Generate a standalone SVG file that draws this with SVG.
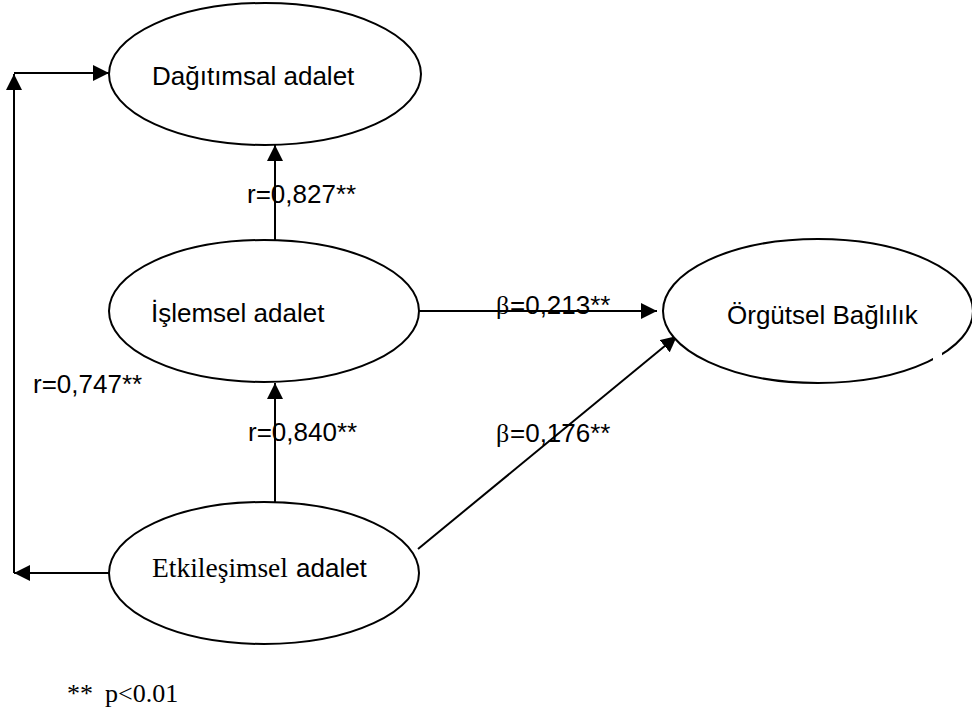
<svg xmlns="http://www.w3.org/2000/svg" width="972" height="716" viewBox="0 0 972 716">
  <style>
    .node { fill: #ffffff; stroke: #000000; stroke-width: 2; }
    .edge { fill: none; stroke: #000000; stroke-width: 2; }
    .sans { font-family: "Liberation Sans", Arial, sans-serif; font-size: 26px; fill: #000000; }
    .serif { font-family: "Liberation Serif", "Times New Roman", serif; font-size: 26px; fill: #000000; }
  </style>
  <defs>
    <marker id="arrow" markerUnits="userSpaceOnUse" markerWidth="16" markerHeight="16" viewBox="0 0 16 16" refX="16" refY="8" orient="auto">
      <path d="M0,0 L16,8 L0,16 Z" fill="#000000"/>
    </marker>
  </defs>

  <rect width="972" height="716" fill="#ffffff"/>

  <!-- connectors -->
  <g id="connectors">
    <line class="edge" x1="109" y1="573" x2="14" y2="573" marker-end="url(#arrow)"/>
    <line class="edge" x1="14" y1="573" x2="14" y2="74" marker-end="url(#arrow)"/>
    <line class="edge" x1="14" y1="73" x2="109" y2="73" marker-end="url(#arrow)"/>
    <line class="edge" x1="275" y1="240" x2="275" y2="145" marker-end="url(#arrow)"/>
    <line class="edge" x1="275" y1="502" x2="275" y2="383" marker-end="url(#arrow)"/>
    <line class="edge" x1="419" y1="311" x2="657" y2="311" marker-end="url(#arrow)"/>
    <line class="edge" x1="418" y1="549" x2="677" y2="336" stroke-width="1.6" marker-end="url(#arrow)"/>
  </g>

  <!-- nodes -->
  <g id="dagitimsal">
    <ellipse class="node" cx="265" cy="74" rx="156" ry="71"/>
    <text class="sans" x="152" y="85">Dağıtımsal adalet</text>
  </g>
  <g id="islemsel">
    <ellipse class="node" cx="264" cy="311" rx="155" ry="71"/>
    <text class="sans" x="151" y="322">İşlemsel adalet</text>
  </g>
  <g id="etkilesimsel">
    <ellipse class="node" cx="264" cy="573" rx="155" ry="71"/>
    <text y="577"><tspan class="serif" x="152" style="font-size:27.5px">Etkileşimsel</tspan><tspan class="sans" x="296">adalet</tspan></text>
  </g>
  <g id="orgutsel">
    <ellipse class="node" cx="818" cy="311" rx="155" ry="72"/>
    <rect x="933" y="353" width="9" height="8" fill="#ffffff"/>
    <text class="sans" x="727" y="324">Örgütsel Bağlılık</text>
  </g>

  <!-- coefficient labels -->
  <g id="labels">
    <text class="sans" x="247" y="203">r=0,827**</text>
    <text class="sans" x="33" y="393">r=0,747**</text>
    <text class="sans" x="248" y="441">r=0,840**</text>
    <text y="314"><tspan class="serif" x="496">β</tspan><tspan class="sans" x="510">=0,213**</tspan></text>
    <text y="442"><tspan class="serif" x="496">β</tspan><tspan class="sans" x="510">=0,176**</tspan></text>
  </g>

  <text y="702"><tspan class="serif" x="67">**</tspan><tspan class="serif" x="105">p&lt;0.01</tspan></text>
</svg>
